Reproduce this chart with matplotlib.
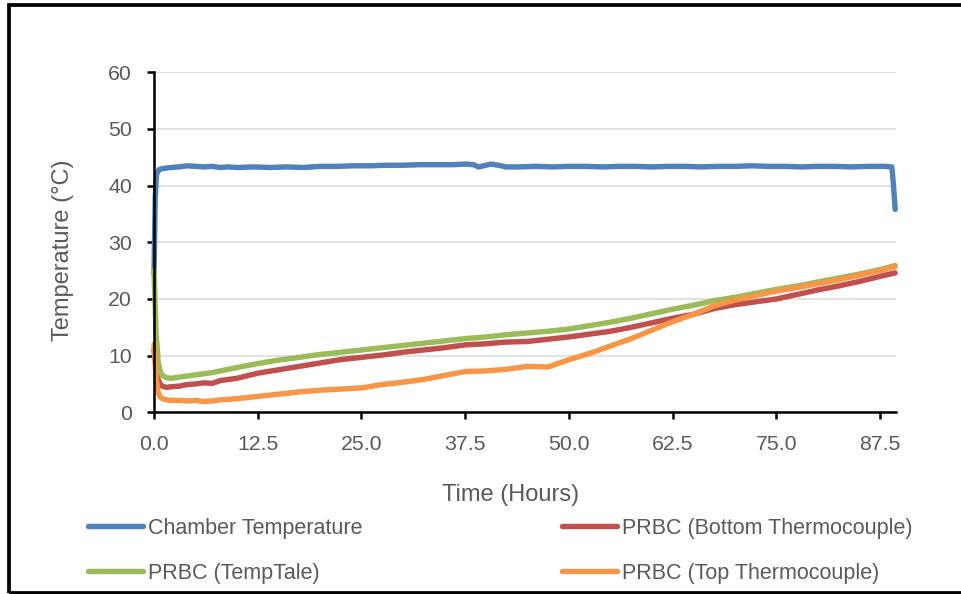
import matplotlib
matplotlib.use("Agg")
import matplotlib.pyplot as plt
from matplotlib.patches import Rectangle

# ---------------- data ----------------
chamber_time = [0.0, 0.15, 0.3, 0.6, 1.0, 2.0, 3.0, 4.0, 5.0, 6.0, 7.0, 8.0, 9.0, 10, 12, 14, 16, 18,
                20, 22, 24, 26, 28, 30, 32, 34, 36, 37.5, 38.5, 39.1, 40.0, 40.6, 41.5, 42.4, 44, 46,
                48, 50, 52, 54, 56, 58, 60, 62, 64, 66, 68, 70, 72, 74, 76, 78, 80, 82, 84, 86, 88,
                88.9, 89.1, 89.3]
chamber_temp = [24.5, 38.0, 42.0, 42.8, 43.0, 43.2, 43.3, 43.5, 43.4, 43.3, 43.4, 43.2, 43.3, 43.2,
                43.3, 43.2, 43.3, 43.2, 43.4, 43.4, 43.5, 43.5, 43.6, 43.6, 43.7, 43.7, 43.7, 43.8,
                43.7, 43.3, 43.6, 43.8, 43.6, 43.3, 43.3, 43.4, 43.3, 43.4, 43.4, 43.3, 43.4, 43.4,
                43.3, 43.4, 43.4, 43.3, 43.4, 43.4, 43.5, 43.4, 43.4, 43.3, 43.4, 43.4, 43.3, 43.4,
                43.4, 43.3, 40.0, 35.8]

prbc_time = [0, 0.25, 0.5, 0.75, 1, 1.5, 2, 3, 4, 5, 6, 7, 8, 10, 12.5, 15, 17.5, 20, 22.5, 25,
             27.5, 30, 32.5, 35, 37.5, 40, 42.5, 45, 47.5, 50, 52.5, 55, 57.5, 60, 62.5, 65, 67.5,
             70, 72.5, 75, 77.5, 80, 82.5, 85, 87.5, 89.3]
bottom_temp = [11.0, 8.0, 5.8, 5.0, 4.6, 4.4, 4.5, 4.6, 4.9, 5.0, 5.2, 5.1, 5.6, 6.0, 6.9, 7.5, 8.1,
               8.7, 9.3, 9.7, 10.1, 10.6, 11.0, 11.4, 11.9, 12.1, 12.4, 12.5, 12.9, 13.3, 13.8,
               14.3, 15.0, 15.8, 16.6, 17.3, 18.3, 19.0, 19.5, 20.0, 20.8, 21.6, 22.3, 23.1, 24.0,
               24.6]
temptale_temp = [25.0, 14.0, 9.0, 7.2, 6.5, 6.1, 6.0, 6.2, 6.4, 6.6, 6.8, 7.0, 7.3, 7.9, 8.6, 9.2,
                 9.7, 10.2, 10.6, 11.0, 11.4, 11.8, 12.2, 12.6, 13.0, 13.3, 13.7, 14.0, 14.3, 14.7,
                 15.3, 15.9, 16.6, 17.4, 18.2, 18.9, 19.7, 20.3, 21.0, 21.7, 22.3, 23.0, 23.7, 24.4,
                 25.2, 25.9]
top_temp = [12.0, 6.0, 3.5, 2.7, 2.4, 2.2, 2.1, 2.1, 2.0, 2.1, 1.9, 2.0, 2.2, 2.4, 2.8, 3.2, 3.6,
            3.9, 4.1, 4.3, 4.9, 5.3, 5.8, 6.5, 7.2, 7.3, 7.6, 8.1, 8.0, 9.3, 10.4, 11.7, 13.0, 14.5,
            16.0, 17.3, 18.8, 19.8, 20.6, 21.4, 22.0, 22.7, 23.4, 24.2, 25.0, 25.7]

series_names = ["Chamber Temperature", "PRBC (Bottom Thermocouple)",
                "PRBC (TempTale)", "PRBC (Top Thermocouple)"]
x_ticks = [0.0, 12.5, 25.0, 37.5, 50.0, 62.5, 75.0, 87.5]
x_tick_labels = ["0.0", "12.5", "25.0", "37.5", "50.0", "62.5", "75.0", "87.5"]
y_ticks = [0, 10, 20, 30, 40, 50, 60]
x_title = "Time (Hours)"
y_title = "Temperature (\u00b0C)"

# ---------------- style ----------------
plt.rcParams['font.family'] = ['Liberation Sans', 'DejaVu Sans']
W, H = 962, 594
DPI = 100
txt = "#595959"
colors = ["#4F81BD", "#C0504D", "#9BBB59", "#F79646"]

fig = plt.figure(figsize=(W / DPI, H / DPI), dpi=DPI)
ax = fig.add_axes([154 / W, (H - 412.3) / H, (896 - 154) / W, 340 / H])

lw = 3.9
lines = []
lines.append(ax.plot(chamber_time, chamber_temp, color=colors[0], lw=lw, clip_on=False,
                     solid_capstyle='round', solid_joinstyle='round', label=series_names[0])[0])
lines.append(ax.plot(prbc_time, bottom_temp, color=colors[1], lw=lw, clip_on=False,
                     solid_capstyle='round', solid_joinstyle='round', label=series_names[1])[0])
lines.append(ax.plot(prbc_time, temptale_temp, color=colors[2], lw=lw, clip_on=False,
                     solid_capstyle='round', solid_joinstyle='round', label=series_names[2])[0])
lines.append(ax.plot(prbc_time, top_temp, color=colors[3], lw=lw, clip_on=False,
                     solid_capstyle='round', solid_joinstyle='round', label=series_names[3])[0])

ax.set_xlim(0, 89.4)
ax.set_ylim(0, 60)
ax.set_xticks(x_ticks)
ax.set_xticklabels(x_tick_labels)
ax.set_yticks(y_ticks)

for s in ["top", "right"]:
    ax.spines[s].set_visible(False)
for s in ["left", "bottom"]:
    ax.spines[s].set_linewidth(1.8)
    ax.spines[s].set_color("black")

ax.yaxis.grid(True, color="#D9D9D9", lw=1.1)
ax.set_axisbelow(True)
ax.tick_params(axis='both', direction='out', length=5, width=1.8, color='black',
               labelsize=15.3, labelcolor=txt)
ax.tick_params(axis='y', pad=11)
ax.tick_params(axis='x', pad=11)

fig.text(511 / W, 1 - 495 / H, x_title, fontsize=17, color=txt, ha='center', va='center')
fig.text(63 / W, 1 - 250 / H, y_title, fontsize=17, color=txt, ha='center', va='center',
         rotation=90)

handles = [lines[0], lines[2], lines[1], lines[3]]
labels = [series_names[0], series_names[2], series_names[1], series_names[3]]
leg = fig.legend(handles, labels, ncol=2, loc='upper left',
                 bbox_to_anchor=(88 / W, 1 - 518 / H), bbox_transform=fig.transFigure,
                 frameon=False, fontsize=15.5, labelcolor=txt, borderpad=0, borderaxespad=0,
                 handlelength=2.55, handletextpad=0.25, columnspacing=9.25, labelspacing=1.1)

fig.patches.append(Rectangle((9 / W, (H - 592.5) / H), (990 - 9) / W, (592.5 - 5.3) / H,
                             transform=fig.transFigure, fill=False, edgecolor='black',
                             linewidth=2.7, clip_on=False))

fig.savefig("out.png", dpi=DPI)
